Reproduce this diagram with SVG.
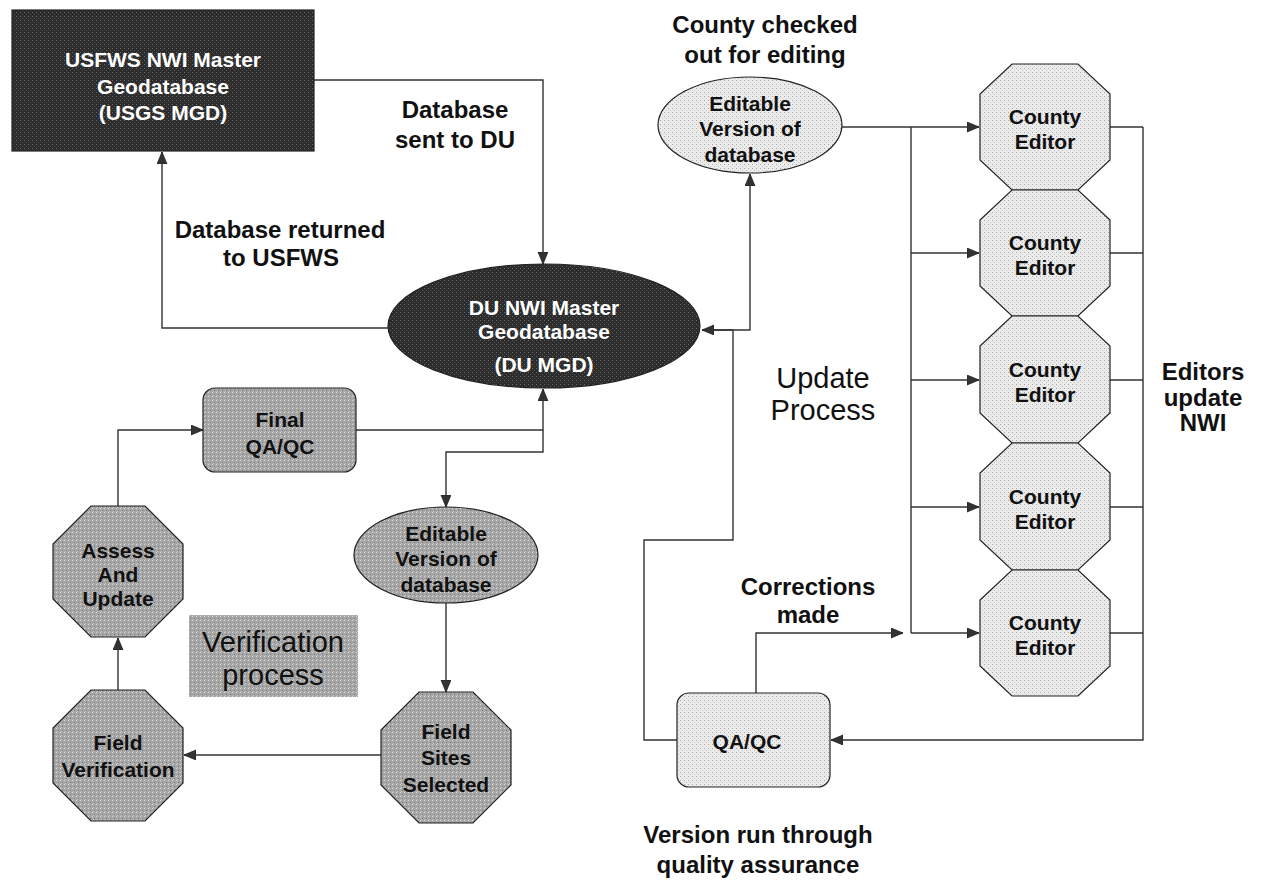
<svg xmlns="http://www.w3.org/2000/svg" width="1261" height="881" viewBox="0 0 1261 881">
<defs>
<pattern id="pDark" width="4" height="4" patternUnits="userSpaceOnUse">
<rect width="4" height="4" fill="#2c2c2c"/>
<rect x="0" y="0" width="1" height="1" fill="#6a6a6a"/>
<rect x="2" y="2" width="1" height="1" fill="#555"/>
</pattern>
<pattern id="pMid" width="4" height="4" patternUnits="userSpaceOnUse">
<rect width="4" height="4" fill="#a6a6a6"/>
<rect x="0" y="0" width="1" height="1" fill="#d8d8d8"/>
<rect x="2" y="2" width="1" height="1" fill="#777"/>
<rect x="1" y="3" width="1" height="1" fill="#c4c4c4"/>
</pattern>
<pattern id="pLight" width="4" height="4" patternUnits="userSpaceOnUse">
<rect width="4" height="4" fill="#ebebeb"/>
<rect x="0" y="0" width="1" height="1" fill="#a8a8a8"/>
<rect x="2" y="2" width="1" height="1" fill="#c6c6c6"/>
</pattern>
<marker id="arr" markerUnits="userSpaceOnUse" markerWidth="14" markerHeight="12" refX="12" refY="5" orient="auto">
<path d="M0,0 L12,5 L0,10 z" fill="#333" stroke="#222" stroke-width="0.8"/>
</marker>
</defs>
<style>
.ln{fill:none;stroke:#333;stroke-width:1.4}
.ar{marker-end:url(#arr)}
.nd{stroke:#222;stroke-width:1.2}
.dk{fill:url(#pDark)}
.md{fill:url(#pMid)}
.lt{fill:url(#pLight)}
.nt{font-family:"Liberation Sans",Arial,sans-serif;font-weight:bold;font-size:21px;text-anchor:middle;fill:#111}
.wt{fill:#fff}
.lb{font-family:"Liberation Sans",Arial,sans-serif;font-weight:bold;font-size:24px;text-anchor:middle;fill:#111}
.rg{font-family:"Liberation Sans",Arial,sans-serif;font-size:29px;text-anchor:middle;fill:#111}
</style>

<g id="connectors">
<path class="ln ar" d="M314,80 H543 V264"/>
<path class="ln ar" d="M388,328 H162 V152"/>
<path class="ln ar" d="M356,430 H543 V389"/>
<path class="ln ar" d="M543,430 V452 H446 V507"/>
<path class="ln ar" d="M446,603 V692"/>
<path class="ln ar" d="M381,755 H184"/>
<path class="ln ar" d="M118,690 V638"/>
<path class="ln ar" d="M118,506 V430 H203"/>
<path class="ln ar" d="M702,330 H750 V174"/>
<path class="ln ar" d="M677,740 H644 V540 H733 V330 H702"/>
<path class="ln ar" d="M842,127 H979"/>
<path class="ln" d="M911,127 V633"/>
<path class="ln ar" d="M911,253 H979"/>
<path class="ln ar" d="M911,380 H979"/>
<path class="ln ar" d="M911,507 H979"/>
<path class="ln ar" d="M911,633 H979"/>
<path class="ln" d="M1110,127 H1143 M1110,253 H1143 M1110,380 H1143 M1110,507 H1143 M1110,633 H1143"/>
<path class="ln ar" d="M1143,127 V740 H831"/>
<path class="ln ar" d="M756,693 V633 H903"/>
</g>

<g id="usfws">
<rect class="nd dk" x="12" y="10" width="302" height="141"/>
<text class="nt wt" x="163" y="67">USFWS NWI Master</text>
<text class="nt wt" x="163" y="94">Geodatabase</text>
<text class="nt wt" x="163" y="120">(USGS MGD)</text>
</g>

<g id="du-mgd">
<ellipse class="nd dk" cx="544" cy="326" rx="156" ry="62"/>
<text class="nt wt" x="544" y="315">DU NWI Master</text>
<text class="nt wt" x="544" y="339">Geodatabase</text>
<text class="nt wt" x="544" y="372">(DU MGD)</text>
</g>

<g id="editable-top">
<ellipse class="nd lt" cx="750" cy="125" rx="92" ry="48"/>
<text class="nt" x="750" y="111">Editable</text>
<text class="nt" x="750" y="136">Version of</text>
<text class="nt" x="750" y="162">database</text>
</g>

<g id="editor1">
<polygon class="nd lt" points="1012,64 1078,64 1110,94 1110,160 1078,190 1012,190 980,160 980,94"/>
<text class="nt" x="1045" y="124">County</text>
<text class="nt" x="1045" y="149">Editor</text>
</g>
<g id="editor2">
<polygon class="nd lt" points="1012,190 1078,190 1110,220 1110,286 1078,316 1012,316 980,286 980,220"/>
<text class="nt" x="1045" y="250">County</text>
<text class="nt" x="1045" y="275">Editor</text>
</g>
<g id="editor3">
<polygon class="nd lt" points="1012,316 1078,316 1110,346 1110,413 1078,443 1012,443 980,413 980,346"/>
<text class="nt" x="1045" y="377">County</text>
<text class="nt" x="1045" y="402">Editor</text>
</g>
<g id="editor4">
<polygon class="nd lt" points="1012,443 1078,443 1110,473 1110,540 1078,570 1012,570 980,540 980,473"/>
<text class="nt" x="1045" y="504">County</text>
<text class="nt" x="1045" y="529">Editor</text>
</g>
<g id="editor5">
<polygon class="nd lt" points="1012,570 1078,570 1110,600 1110,666 1078,696 1012,696 980,666 980,600"/>
<text class="nt" x="1045" y="630">County</text>
<text class="nt" x="1045" y="655">Editor</text>
</g>

<g id="qaqc">
<rect class="nd lt" x="677" y="693" width="153" height="94" rx="12"/>
<text class="nt" x="747" y="749">QA/QC</text>
</g>

<g id="final-qaqc">
<rect class="nd md" x="203" y="388" width="153" height="84" rx="12"/>
<text class="nt" x="280" y="427">Final</text>
<text class="nt" x="280" y="454">QA/QC</text>
</g>

<g id="assess">
<polygon class="nd md" points="91,506 145,506 183,544 183,599 145,637 91,637 53,599 53,544"/>
<text class="nt" x="118" y="558">Assess</text>
<text class="nt" x="118" y="582">And</text>
<text class="nt" x="118" y="606">Update</text>
</g>

<g id="editable-low">
<ellipse class="nd md" cx="446" cy="555" rx="92" ry="48"/>
<text class="nt" x="446" y="541">Editable</text>
<text class="nt" x="446" y="566">Version of</text>
<text class="nt" x="446" y="592">database</text>
</g>

<g id="field-sites">
<polygon class="nd md" points="419,692 473,692 511,730 511,785 473,823 419,823 381,785 381,730"/>
<text class="nt" x="446" y="739">Field</text>
<text class="nt" x="446" y="765">Sites</text>
<text class="nt" x="446" y="792">Selected</text>
</g>

<g id="field-verification">
<polygon class="nd md" points="91,690 145,690 183,728 183,783 145,821 91,821 53,783 53,728"/>
<text class="nt" x="118" y="750">Field</text>
<text class="nt" x="118" y="777">Verification</text>
</g>

<g id="verification-process">
<rect class="md" x="189" y="615" width="169" height="82"/>
<text class="rg" x="273" y="652" font-size="28">Verification</text>
<text class="rg" x="273" y="685" font-size="28">process</text>
</g>

<g id="labels">
<text class="lb" x="765" y="33">County checked</text>
<text class="lb" x="765" y="63">out for editing</text>
<text class="lb" x="455" y="118">Database</text>
<text class="lb" x="455" y="148">sent to DU</text>
<text class="lb" x="280" y="238">Database returned</text>
<text class="lb" x="281" y="266">to USFWS</text>
<text class="rg" x="823" y="388">Update</text>
<text class="rg" x="823" y="420">Process</text>
<text class="lb" x="1203" y="380">Editors</text>
<text class="lb" x="1203" y="406">update</text>
<text class="lb" x="1203" y="431">NWI</text>
<text class="lb" x="808" y="595">Corrections</text>
<text class="lb" x="808" y="623">made</text>
<text class="lb" x="758" y="843">Version run through</text>
<text class="lb" x="758" y="873">quality assurance</text>
</g>
</svg>
